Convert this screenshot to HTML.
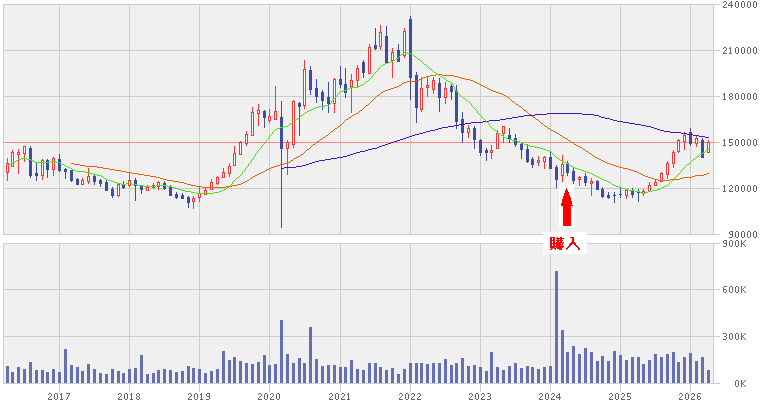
<!DOCTYPE html><html><head><meta charset="utf-8"><title>chart</title><style>html,body{margin:0;padding:0;background:#fff}svg{display:block}text{font-family:"Liberation Sans",sans-serif;font-size:9.5px;fill:#666666;letter-spacing:0.7px}</style></head><body>
<svg width="761" height="405" viewBox="0 0 761 405">
<rect width="761" height="405" fill="#fff"/>
<g shape-rendering="crispEdges">
<rect x="3" y="4" width="711" height="231" fill="#f0f0f0"/>
<rect x="3" y="243" width="711" height="141" fill="#f0f0f0"/>
<rect x="3" y="4" width="717" height="1" fill="#cccccc"/>
<rect x="3" y="50" width="717" height="1" fill="#cccccc"/>
<rect x="3" y="96" width="717" height="1" fill="#cccccc"/>
<rect x="3" y="142" width="717" height="1" fill="#cccccc"/>
<rect x="3" y="188" width="717" height="1" fill="#cccccc"/>
<rect x="3" y="234" width="717" height="1" fill="#cccccc"/>
<rect x="3" y="243" width="717" height="1" fill="#cccccc"/>
<rect x="3" y="289" width="717" height="1" fill="#cccccc"/>
<rect x="3" y="336" width="717" height="1" fill="#cccccc"/>
<rect x="3" y="383" width="717" height="1" fill="#cccccc"/>
<rect x="59" y="4" width="1" height="231" fill="#cccccc"/>
<rect x="59" y="243" width="1" height="149" fill="#cccccc"/>
<rect x="129" y="4" width="1" height="231" fill="#cccccc"/>
<rect x="129" y="243" width="1" height="149" fill="#cccccc"/>
<rect x="199" y="4" width="1" height="231" fill="#cccccc"/>
<rect x="199" y="243" width="1" height="149" fill="#cccccc"/>
<rect x="269" y="4" width="1" height="231" fill="#cccccc"/>
<rect x="269" y="243" width="1" height="149" fill="#cccccc"/>
<rect x="340" y="4" width="1" height="231" fill="#cccccc"/>
<rect x="340" y="243" width="1" height="149" fill="#cccccc"/>
<rect x="410" y="4" width="1" height="231" fill="#cccccc"/>
<rect x="410" y="243" width="1" height="149" fill="#cccccc"/>
<rect x="480" y="4" width="1" height="231" fill="#cccccc"/>
<rect x="480" y="243" width="1" height="149" fill="#cccccc"/>
<rect x="550" y="4" width="1" height="231" fill="#cccccc"/>
<rect x="550" y="243" width="1" height="149" fill="#cccccc"/>
<rect x="620" y="4" width="1" height="231" fill="#cccccc"/>
<rect x="620" y="243" width="1" height="149" fill="#cccccc"/>
<rect x="690" y="4" width="1" height="231" fill="#cccccc"/>
<rect x="690" y="243" width="1" height="149" fill="#cccccc"/>
<rect x="3" y="4" width="1" height="231" fill="#cccccc"/>
<rect x="3" y="243" width="1" height="141" fill="#cccccc"/>
<rect x="713" y="4" width="1" height="231" fill="#cccccc"/>
<rect x="713" y="243" width="1" height="141" fill="#cccccc"/>
<rect x="3" y="142" width="712" height="1" fill="#ff8484"/>
<rect x="7" y="158" width="1" height="23" fill="#ff3333"/>
<rect x="6" y="163" width="3" height="10" fill="#ff3333"/>
<rect x="7" y="164" width="1" height="8" fill="#fff"/>
<rect x="12" y="150" width="1" height="17" fill="#ff3333"/>
<rect x="11" y="152" width="3" height="15" fill="#ff3333"/>
<rect x="12" y="153" width="1" height="13" fill="#fff"/>
<rect x="18" y="149" width="1" height="25" fill="#ff3333"/>
<rect x="17" y="152" width="3" height="3" fill="#ff3333"/>
<rect x="18" y="153" width="1" height="1" fill="#fff"/>
<rect x="24" y="146" width="1" height="16" fill="#ff3333"/>
<rect x="23" y="146" width="3" height="8" fill="#ff3333"/>
<rect x="24" y="147" width="1" height="6" fill="#fff"/>
<rect x="30" y="146" width="1" height="32" fill="#404ca2"/>
<rect x="29" y="148" width="3" height="28" fill="#404ca2"/>
<rect x="36" y="162" width="1" height="19" fill="#404ca2"/>
<rect x="35" y="173" width="3" height="3" fill="#404ca2"/>
<rect x="42" y="159" width="1" height="21" fill="#ff3333"/>
<rect x="41" y="160" width="3" height="16" fill="#ff3333"/>
<rect x="42" y="161" width="1" height="14" fill="#fff"/>
<rect x="47" y="159" width="1" height="19" fill="#404ca2"/>
<rect x="46" y="160" width="3" height="10" fill="#404ca2"/>
<rect x="53" y="157" width="1" height="19" fill="#ff3333"/>
<rect x="52" y="158" width="3" height="12" fill="#ff3333"/>
<rect x="53" y="159" width="1" height="10" fill="#fff"/>
<rect x="59" y="154" width="1" height="18" fill="#404ca2"/>
<rect x="58" y="159" width="3" height="12" fill="#404ca2"/>
<rect x="65" y="168" width="1" height="11" fill="#404ca2"/>
<rect x="64" y="169" width="3" height="3" fill="#404ca2"/>
<rect x="71" y="170" width="1" height="12" fill="#404ca2"/>
<rect x="70" y="170" width="3" height="11" fill="#404ca2"/>
<rect x="77" y="178" width="1" height="7" fill="#404ca2"/>
<rect x="76" y="179" width="3" height="6" fill="#404ca2"/>
<rect x="82" y="178" width="1" height="7" fill="#ff3333"/>
<rect x="81" y="180" width="3" height="5" fill="#ff3333"/>
<rect x="82" y="181" width="1" height="3" fill="#fff"/>
<rect x="88" y="168" width="1" height="16" fill="#ff3333"/>
<rect x="87" y="176" width="3" height="6" fill="#ff3333"/>
<rect x="88" y="177" width="1" height="4" fill="#fff"/>
<rect x="94" y="174" width="1" height="11" fill="#404ca2"/>
<rect x="93" y="176" width="3" height="6" fill="#404ca2"/>
<rect x="100" y="179" width="1" height="8" fill="#404ca2"/>
<rect x="99" y="180" width="3" height="4" fill="#404ca2"/>
<rect x="106" y="180" width="1" height="11" fill="#404ca2"/>
<rect x="105" y="182" width="3" height="9" fill="#404ca2"/>
<rect x="112" y="187" width="1" height="11" fill="#404ca2"/>
<rect x="111" y="189" width="3" height="7" fill="#404ca2"/>
<rect x="118" y="184" width="1" height="13" fill="#ff3333"/>
<rect x="117" y="184" width="3" height="12" fill="#ff3333"/>
<rect x="118" y="185" width="1" height="10" fill="#fff"/>
<rect x="123" y="181" width="1" height="8" fill="#404ca2"/>
<rect x="122" y="184" width="3" height="4" fill="#404ca2"/>
<rect x="129" y="172" width="1" height="15" fill="#ff3333"/>
<rect x="128" y="180" width="3" height="6" fill="#ff3333"/>
<rect x="129" y="181" width="1" height="4" fill="#fff"/>
<rect x="135" y="178" width="1" height="23" fill="#404ca2"/>
<rect x="134" y="180" width="3" height="6" fill="#404ca2"/>
<rect x="141" y="185" width="1" height="9" fill="#404ca2"/>
<rect x="140" y="186" width="3" height="4" fill="#404ca2"/>
<rect x="147" y="185" width="1" height="6" fill="#ff3333"/>
<rect x="146" y="187" width="3" height="4" fill="#ff3333"/>
<rect x="147" y="188" width="1" height="2" fill="#fff"/>
<rect x="153" y="183" width="1" height="6" fill="#ff3333"/>
<rect x="152" y="185" width="3" height="3" fill="#ff3333"/>
<rect x="153" y="186" width="1" height="1" fill="#fff"/>
<rect x="158" y="181" width="1" height="9" fill="#ff3333"/>
<rect x="157" y="182" width="3" height="5" fill="#ff3333"/>
<rect x="158" y="183" width="1" height="3" fill="#fff"/>
<rect x="164" y="181" width="1" height="9" fill="#404ca2"/>
<rect x="163" y="183" width="3" height="6" fill="#404ca2"/>
<rect x="170" y="185" width="1" height="11" fill="#404ca2"/>
<rect x="169" y="187" width="3" height="9" fill="#404ca2"/>
<rect x="176" y="192" width="1" height="7" fill="#404ca2"/>
<rect x="175" y="194" width="3" height="4" fill="#404ca2"/>
<rect x="182" y="193" width="1" height="6" fill="#404ca2"/>
<rect x="181" y="195" width="3" height="4" fill="#404ca2"/>
<rect x="188" y="196" width="1" height="12" fill="#404ca2"/>
<rect x="187" y="197" width="3" height="6" fill="#404ca2"/>
<rect x="193" y="196" width="1" height="13" fill="#ff3333"/>
<rect x="192" y="198" width="3" height="4" fill="#ff3333"/>
<rect x="193" y="199" width="1" height="2" fill="#fff"/>
<rect x="199" y="186" width="1" height="16" fill="#ff3333"/>
<rect x="198" y="193" width="3" height="5" fill="#ff3333"/>
<rect x="199" y="194" width="1" height="3" fill="#fff"/>
<rect x="205" y="188" width="1" height="7" fill="#ff3333"/>
<rect x="204" y="190" width="3" height="5" fill="#ff3333"/>
<rect x="205" y="191" width="1" height="3" fill="#fff"/>
<rect x="211" y="179" width="1" height="11" fill="#ff3333"/>
<rect x="210" y="182" width="3" height="8" fill="#ff3333"/>
<rect x="211" y="183" width="1" height="6" fill="#fff"/>
<rect x="217" y="176" width="1" height="9" fill="#ff3333"/>
<rect x="216" y="177" width="3" height="7" fill="#ff3333"/>
<rect x="217" y="178" width="1" height="5" fill="#fff"/>
<rect x="223" y="168" width="1" height="10" fill="#ff3333"/>
<rect x="222" y="172" width="3" height="6" fill="#ff3333"/>
<rect x="223" y="173" width="1" height="4" fill="#fff"/>
<rect x="229" y="163" width="1" height="14" fill="#ff3333"/>
<rect x="228" y="166" width="3" height="8" fill="#ff3333"/>
<rect x="229" y="167" width="1" height="6" fill="#fff"/>
<rect x="234" y="146" width="1" height="20" fill="#ff3333"/>
<rect x="233" y="153" width="3" height="13" fill="#ff3333"/>
<rect x="234" y="154" width="1" height="11" fill="#fff"/>
<rect x="240" y="141" width="1" height="14" fill="#ff3333"/>
<rect x="239" y="142" width="3" height="13" fill="#ff3333"/>
<rect x="240" y="143" width="1" height="11" fill="#fff"/>
<rect x="246" y="131" width="1" height="15" fill="#ff3333"/>
<rect x="245" y="134" width="3" height="10" fill="#ff3333"/>
<rect x="246" y="135" width="1" height="8" fill="#fff"/>
<rect x="252" y="107" width="1" height="29" fill="#ff3333"/>
<rect x="251" y="112" width="3" height="24" fill="#ff3333"/>
<rect x="252" y="113" width="1" height="22" fill="#fff"/>
<rect x="258" y="104" width="1" height="22" fill="#ff3333"/>
<rect x="257" y="110" width="3" height="4" fill="#ff3333"/>
<rect x="258" y="111" width="1" height="2" fill="#fff"/>
<rect x="264" y="110" width="1" height="18" fill="#404ca2"/>
<rect x="263" y="111" width="3" height="7" fill="#404ca2"/>
<rect x="269" y="109" width="1" height="14" fill="#ff3333"/>
<rect x="268" y="116" width="3" height="5" fill="#ff3333"/>
<rect x="269" y="117" width="1" height="3" fill="#fff"/>
<rect x="275" y="86" width="1" height="34" fill="#ff3333"/>
<rect x="274" y="111" width="3" height="9" fill="#ff3333"/>
<rect x="275" y="112" width="1" height="7" fill="#fff"/>
<rect x="281" y="101" width="1" height="127" fill="#404ca2"/>
<rect x="280" y="117" width="3" height="32" fill="#404ca2"/>
<rect x="287" y="140" width="1" height="35" fill="#ff3333"/>
<rect x="286" y="142" width="3" height="7" fill="#ff3333"/>
<rect x="287" y="143" width="1" height="5" fill="#fff"/>
<rect x="293" y="100" width="1" height="48" fill="#ff3333"/>
<rect x="292" y="101" width="3" height="44" fill="#ff3333"/>
<rect x="293" y="102" width="1" height="42" fill="#fff"/>
<rect x="299" y="102" width="1" height="34" fill="#404ca2"/>
<rect x="298" y="103" width="3" height="4" fill="#404ca2"/>
<rect x="304" y="60" width="1" height="49" fill="#ff3333"/>
<rect x="303" y="69" width="3" height="37" fill="#ff3333"/>
<rect x="304" y="70" width="1" height="35" fill="#fff"/>
<rect x="310" y="66" width="1" height="29" fill="#404ca2"/>
<rect x="309" y="70" width="3" height="20" fill="#404ca2"/>
<rect x="316" y="79" width="1" height="24" fill="#404ca2"/>
<rect x="315" y="88" width="3" height="9" fill="#404ca2"/>
<rect x="322" y="90" width="1" height="20" fill="#404ca2"/>
<rect x="321" y="92" width="3" height="9" fill="#404ca2"/>
<rect x="328" y="82" width="1" height="31" fill="#404ca2"/>
<rect x="327" y="97" width="3" height="7" fill="#404ca2"/>
<rect x="334" y="78" width="1" height="35" fill="#ff3333"/>
<rect x="333" y="79" width="3" height="25" fill="#ff3333"/>
<rect x="334" y="80" width="1" height="23" fill="#fff"/>
<rect x="340" y="66" width="1" height="22" fill="#404ca2"/>
<rect x="339" y="79" width="3" height="6" fill="#404ca2"/>
<rect x="345" y="68" width="1" height="30" fill="#404ca2"/>
<rect x="344" y="84" width="3" height="9" fill="#404ca2"/>
<rect x="351" y="74" width="1" height="39" fill="#ff3333"/>
<rect x="350" y="80" width="3" height="7" fill="#ff3333"/>
<rect x="351" y="81" width="1" height="5" fill="#fff"/>
<rect x="357" y="65" width="1" height="22" fill="#ff3333"/>
<rect x="356" y="68" width="3" height="13" fill="#ff3333"/>
<rect x="357" y="69" width="1" height="11" fill="#fff"/>
<rect x="363" y="60" width="1" height="18" fill="#404ca2"/>
<rect x="362" y="62" width="3" height="11" fill="#404ca2"/>
<rect x="369" y="44" width="1" height="30" fill="#ff3333"/>
<rect x="368" y="47" width="3" height="27" fill="#ff3333"/>
<rect x="369" y="48" width="1" height="25" fill="#fff"/>
<rect x="375" y="28" width="1" height="22" fill="#404ca2"/>
<rect x="374" y="45" width="3" height="4" fill="#404ca2"/>
<rect x="380" y="25" width="1" height="25" fill="#ff3333"/>
<rect x="379" y="32" width="3" height="15" fill="#ff3333"/>
<rect x="380" y="33" width="1" height="13" fill="#fff"/>
<rect x="386" y="26" width="1" height="37" fill="#404ca2"/>
<rect x="385" y="36" width="3" height="27" fill="#404ca2"/>
<rect x="392" y="48" width="1" height="30" fill="#ff3333"/>
<rect x="391" y="52" width="3" height="9" fill="#ff3333"/>
<rect x="392" y="53" width="1" height="7" fill="#fff"/>
<rect x="398" y="44" width="1" height="18" fill="#404ca2"/>
<rect x="397" y="50" width="3" height="12" fill="#404ca2"/>
<rect x="404" y="28" width="1" height="30" fill="#ff3333"/>
<rect x="403" y="31" width="3" height="25" fill="#ff3333"/>
<rect x="404" y="32" width="1" height="23" fill="#fff"/>
<rect x="410" y="16" width="1" height="84" fill="#404ca2"/>
<rect x="409" y="19" width="3" height="59" fill="#404ca2"/>
<rect x="416" y="72" width="1" height="51" fill="#404ca2"/>
<rect x="415" y="75" width="3" height="33" fill="#404ca2"/>
<rect x="421" y="77" width="1" height="35" fill="#ff3333"/>
<rect x="420" y="88" width="3" height="22" fill="#ff3333"/>
<rect x="421" y="89" width="1" height="20" fill="#fff"/>
<rect x="427" y="77" width="1" height="20" fill="#ff3333"/>
<rect x="426" y="85" width="3" height="3" fill="#ff3333"/>
<rect x="427" y="86" width="1" height="1" fill="#fff"/>
<rect x="433" y="77" width="1" height="17" fill="#ff3333"/>
<rect x="432" y="80" width="3" height="10" fill="#ff3333"/>
<rect x="433" y="81" width="1" height="8" fill="#fff"/>
<rect x="439" y="78" width="1" height="34" fill="#404ca2"/>
<rect x="438" y="83" width="3" height="15" fill="#404ca2"/>
<rect x="445" y="82" width="1" height="22" fill="#ff3333"/>
<rect x="444" y="88" width="3" height="10" fill="#ff3333"/>
<rect x="445" y="89" width="1" height="8" fill="#fff"/>
<rect x="451" y="84" width="1" height="16" fill="#404ca2"/>
<rect x="450" y="86" width="3" height="6" fill="#404ca2"/>
<rect x="456" y="85" width="1" height="44" fill="#404ca2"/>
<rect x="455" y="91" width="3" height="31" fill="#404ca2"/>
<rect x="462" y="112" width="1" height="31" fill="#404ca2"/>
<rect x="461" y="119" width="3" height="14" fill="#404ca2"/>
<rect x="468" y="125" width="1" height="13" fill="#ff3333"/>
<rect x="467" y="128" width="3" height="5" fill="#ff3333"/>
<rect x="468" y="129" width="1" height="3" fill="#fff"/>
<rect x="474" y="126" width="1" height="23" fill="#404ca2"/>
<rect x="473" y="128" width="3" height="12" fill="#404ca2"/>
<rect x="480" y="139" width="1" height="17" fill="#404ca2"/>
<rect x="479" y="140" width="3" height="13" fill="#404ca2"/>
<rect x="486" y="148" width="1" height="13" fill="#404ca2"/>
<rect x="485" y="150" width="3" height="3" fill="#404ca2"/>
<rect x="491" y="145" width="1" height="14" fill="#ff3333"/>
<rect x="490" y="150" width="3" height="3" fill="#ff3333"/>
<rect x="491" y="151" width="1" height="1" fill="#fff"/>
<rect x="497" y="130" width="1" height="19" fill="#ff3333"/>
<rect x="496" y="133" width="3" height="16" fill="#ff3333"/>
<rect x="497" y="134" width="1" height="14" fill="#fff"/>
<rect x="503" y="126" width="1" height="17" fill="#ff3333"/>
<rect x="502" y="126" width="3" height="8" fill="#ff3333"/>
<rect x="503" y="127" width="1" height="6" fill="#fff"/>
<rect x="509" y="128" width="1" height="15" fill="#404ca2"/>
<rect x="508" y="135" width="3" height="5" fill="#404ca2"/>
<rect x="515" y="134" width="1" height="13" fill="#404ca2"/>
<rect x="514" y="138" width="3" height="7" fill="#404ca2"/>
<rect x="521" y="143" width="1" height="16" fill="#404ca2"/>
<rect x="520" y="144" width="3" height="6" fill="#404ca2"/>
<rect x="527" y="144" width="1" height="19" fill="#404ca2"/>
<rect x="526" y="149" width="3" height="13" fill="#404ca2"/>
<rect x="532" y="157" width="1" height="11" fill="#404ca2"/>
<rect x="531" y="159" width="3" height="6" fill="#404ca2"/>
<rect x="538" y="156" width="1" height="10" fill="#ff3333"/>
<rect x="537" y="160" width="3" height="3" fill="#ff3333"/>
<rect x="538" y="161" width="1" height="1" fill="#fff"/>
<rect x="544" y="156" width="1" height="13" fill="#ff3333"/>
<rect x="543" y="157" width="3" height="5" fill="#ff3333"/>
<rect x="544" y="158" width="1" height="3" fill="#fff"/>
<rect x="550" y="152" width="1" height="17" fill="#404ca2"/>
<rect x="549" y="157" width="3" height="12" fill="#404ca2"/>
<rect x="556" y="165" width="1" height="23" fill="#404ca2"/>
<rect x="555" y="167" width="3" height="13" fill="#404ca2"/>
<rect x="562" y="155" width="1" height="27" fill="#ff3333"/>
<rect x="561" y="164" width="3" height="12" fill="#ff3333"/>
<rect x="562" y="165" width="1" height="10" fill="#fff"/>
<rect x="567" y="161" width="1" height="15" fill="#404ca2"/>
<rect x="566" y="163" width="3" height="10" fill="#404ca2"/>
<rect x="573" y="168" width="1" height="16" fill="#404ca2"/>
<rect x="572" y="171" width="3" height="10" fill="#404ca2"/>
<rect x="579" y="176" width="1" height="10" fill="#ff3333"/>
<rect x="578" y="177" width="3" height="3" fill="#ff3333"/>
<rect x="579" y="178" width="1" height="1" fill="#fff"/>
<rect x="585" y="173" width="1" height="13" fill="#404ca2"/>
<rect x="584" y="176" width="3" height="7" fill="#404ca2"/>
<rect x="591" y="178" width="1" height="18" fill="#ff3333"/>
<rect x="590" y="181" width="3" height="3" fill="#ff3333"/>
<rect x="591" y="182" width="1" height="1" fill="#fff"/>
<rect x="597" y="180" width="1" height="10" fill="#404ca2"/>
<rect x="596" y="181" width="3" height="9" fill="#404ca2"/>
<rect x="602" y="187" width="1" height="11" fill="#404ca2"/>
<rect x="601" y="189" width="3" height="8" fill="#404ca2"/>
<rect x="608" y="192" width="1" height="7" fill="#404ca2"/>
<rect x="607" y="195" width="3" height="3" fill="#404ca2"/>
<rect x="614" y="192" width="1" height="11" fill="#404ca2"/>
<rect x="613" y="195" width="3" height="1" fill="#404ca2"/>
<rect x="620" y="187" width="1" height="11" fill="#404ca2"/>
<rect x="619" y="194" width="3" height="1" fill="#404ca2"/>
<rect x="626" y="190" width="1" height="9" fill="#ff3333"/>
<rect x="625" y="190" width="3" height="6" fill="#ff3333"/>
<rect x="626" y="191" width="1" height="4" fill="#fff"/>
<rect x="632" y="188" width="1" height="10" fill="#404ca2"/>
<rect x="631" y="190" width="3" height="5" fill="#404ca2"/>
<rect x="638" y="189" width="1" height="13" fill="#404ca2"/>
<rect x="637" y="192" width="3" height="1" fill="#404ca2"/>
<rect x="643" y="189" width="1" height="7" fill="#ff3333"/>
<rect x="642" y="191" width="3" height="3" fill="#ff3333"/>
<rect x="643" y="192" width="1" height="1" fill="#fff"/>
<rect x="649" y="182" width="1" height="10" fill="#ff3333"/>
<rect x="648" y="185" width="3" height="7" fill="#ff3333"/>
<rect x="649" y="186" width="1" height="5" fill="#fff"/>
<rect x="655" y="180" width="1" height="6" fill="#ff3333"/>
<rect x="654" y="182" width="3" height="4" fill="#ff3333"/>
<rect x="655" y="183" width="1" height="2" fill="#fff"/>
<rect x="661" y="172" width="1" height="10" fill="#ff3333"/>
<rect x="660" y="173" width="3" height="9" fill="#ff3333"/>
<rect x="661" y="174" width="1" height="7" fill="#fff"/>
<rect x="667" y="161" width="1" height="18" fill="#ff3333"/>
<rect x="666" y="163" width="3" height="12" fill="#ff3333"/>
<rect x="667" y="164" width="1" height="10" fill="#fff"/>
<rect x="673" y="150" width="1" height="18" fill="#ff3333"/>
<rect x="672" y="152" width="3" height="12" fill="#ff3333"/>
<rect x="673" y="153" width="1" height="10" fill="#fff"/>
<rect x="678" y="139" width="1" height="14" fill="#ff3333"/>
<rect x="677" y="140" width="3" height="12" fill="#ff3333"/>
<rect x="678" y="141" width="1" height="10" fill="#fff"/>
<rect x="684" y="132" width="1" height="18" fill="#ff3333"/>
<rect x="683" y="135" width="3" height="7" fill="#ff3333"/>
<rect x="684" y="136" width="1" height="5" fill="#fff"/>
<rect x="690" y="128" width="1" height="18" fill="#404ca2"/>
<rect x="689" y="132" width="3" height="12" fill="#404ca2"/>
<rect x="696" y="135" width="1" height="12" fill="#ff3333"/>
<rect x="695" y="138" width="3" height="6" fill="#ff3333"/>
<rect x="696" y="139" width="1" height="4" fill="#fff"/>
<rect x="702" y="138" width="1" height="20" fill="#404ca2"/>
<rect x="701" y="140" width="3" height="18" fill="#404ca2"/>
<rect x="708" y="140" width="1" height="13" fill="#ff3333"/>
<rect x="707" y="142" width="3" height="11" fill="#ff3333"/>
<rect x="708" y="143" width="1" height="9" fill="#fff"/>
<rect x="6" y="366" width="3" height="17" fill="#6670b0"/>
<rect x="11" y="372" width="3" height="11" fill="#6670b0"/>
<rect x="17" y="367" width="3" height="16" fill="#6670b0"/>
<rect x="23" y="369" width="3" height="14" fill="#6670b0"/>
<rect x="29" y="362" width="3" height="21" fill="#6670b0"/>
<rect x="35" y="370" width="3" height="13" fill="#6670b0"/>
<rect x="41" y="370" width="3" height="13" fill="#6670b0"/>
<rect x="46" y="372" width="3" height="11" fill="#6670b0"/>
<rect x="52" y="369" width="3" height="14" fill="#6670b0"/>
<rect x="58" y="372" width="3" height="11" fill="#6670b0"/>
<rect x="64" y="349" width="3" height="34" fill="#6670b0"/>
<rect x="70" y="365" width="3" height="18" fill="#6670b0"/>
<rect x="76" y="367" width="3" height="16" fill="#6670b0"/>
<rect x="81" y="371" width="3" height="12" fill="#6670b0"/>
<rect x="87" y="364" width="3" height="19" fill="#6670b0"/>
<rect x="93" y="369" width="3" height="14" fill="#6670b0"/>
<rect x="99" y="373" width="3" height="10" fill="#6670b0"/>
<rect x="105" y="374" width="3" height="9" fill="#6670b0"/>
<rect x="111" y="369" width="3" height="14" fill="#6670b0"/>
<rect x="117" y="371" width="3" height="12" fill="#6670b0"/>
<rect x="122" y="373" width="3" height="10" fill="#6670b0"/>
<rect x="128" y="369" width="3" height="14" fill="#6670b0"/>
<rect x="134" y="368" width="3" height="15" fill="#6670b0"/>
<rect x="140" y="355" width="3" height="28" fill="#6670b0"/>
<rect x="146" y="374" width="3" height="9" fill="#6670b0"/>
<rect x="152" y="373" width="3" height="10" fill="#6670b0"/>
<rect x="157" y="370" width="3" height="13" fill="#6670b0"/>
<rect x="163" y="369" width="3" height="14" fill="#6670b0"/>
<rect x="169" y="370" width="3" height="13" fill="#6670b0"/>
<rect x="175" y="372" width="3" height="11" fill="#6670b0"/>
<rect x="181" y="371" width="3" height="12" fill="#6670b0"/>
<rect x="187" y="366" width="3" height="17" fill="#6670b0"/>
<rect x="192" y="368" width="3" height="15" fill="#6670b0"/>
<rect x="198" y="369" width="3" height="14" fill="#6670b0"/>
<rect x="204" y="373" width="3" height="10" fill="#6670b0"/>
<rect x="210" y="371" width="3" height="12" fill="#6670b0"/>
<rect x="216" y="369" width="3" height="14" fill="#6670b0"/>
<rect x="222" y="351" width="3" height="32" fill="#6670b0"/>
<rect x="228" y="360" width="3" height="23" fill="#6670b0"/>
<rect x="233" y="357" width="3" height="26" fill="#6670b0"/>
<rect x="239" y="361" width="3" height="22" fill="#6670b0"/>
<rect x="245" y="363" width="3" height="20" fill="#6670b0"/>
<rect x="251" y="364" width="3" height="19" fill="#6670b0"/>
<rect x="257" y="362" width="3" height="21" fill="#6670b0"/>
<rect x="263" y="355" width="3" height="28" fill="#6670b0"/>
<rect x="268" y="365" width="3" height="18" fill="#6670b0"/>
<rect x="274" y="364" width="3" height="19" fill="#6670b0"/>
<rect x="280" y="320" width="3" height="63" fill="#6670b0"/>
<rect x="286" y="354" width="3" height="29" fill="#6670b0"/>
<rect x="292" y="363" width="3" height="20" fill="#6670b0"/>
<rect x="298" y="358" width="3" height="25" fill="#6670b0"/>
<rect x="303" y="363" width="3" height="20" fill="#6670b0"/>
<rect x="309" y="327" width="3" height="56" fill="#6670b0"/>
<rect x="315" y="359" width="3" height="24" fill="#6670b0"/>
<rect x="321" y="366" width="3" height="17" fill="#6670b0"/>
<rect x="327" y="365" width="3" height="18" fill="#6670b0"/>
<rect x="333" y="365" width="3" height="18" fill="#6670b0"/>
<rect x="339" y="367" width="3" height="16" fill="#6670b0"/>
<rect x="344" y="367" width="3" height="16" fill="#6670b0"/>
<rect x="350" y="360" width="3" height="23" fill="#6670b0"/>
<rect x="356" y="369" width="3" height="14" fill="#6670b0"/>
<rect x="362" y="370" width="3" height="13" fill="#6670b0"/>
<rect x="368" y="363" width="3" height="20" fill="#6670b0"/>
<rect x="374" y="363" width="3" height="20" fill="#6670b0"/>
<rect x="379" y="367" width="3" height="16" fill="#6670b0"/>
<rect x="385" y="370" width="3" height="13" fill="#6670b0"/>
<rect x="391" y="368" width="3" height="15" fill="#6670b0"/>
<rect x="397" y="374" width="3" height="9" fill="#6670b0"/>
<rect x="403" y="369" width="3" height="14" fill="#6670b0"/>
<rect x="409" y="363" width="3" height="20" fill="#6670b0"/>
<rect x="415" y="363" width="3" height="20" fill="#6670b0"/>
<rect x="420" y="363" width="3" height="20" fill="#6670b0"/>
<rect x="426" y="364" width="3" height="19" fill="#6670b0"/>
<rect x="432" y="363" width="3" height="20" fill="#6670b0"/>
<rect x="438" y="363" width="3" height="20" fill="#6670b0"/>
<rect x="444" y="359" width="3" height="24" fill="#6670b0"/>
<rect x="450" y="365" width="3" height="18" fill="#6670b0"/>
<rect x="455" y="363" width="3" height="20" fill="#6670b0"/>
<rect x="461" y="358" width="3" height="25" fill="#6670b0"/>
<rect x="467" y="366" width="3" height="17" fill="#6670b0"/>
<rect x="473" y="365" width="3" height="18" fill="#6670b0"/>
<rect x="479" y="367" width="3" height="16" fill="#6670b0"/>
<rect x="485" y="371" width="3" height="12" fill="#6670b0"/>
<rect x="490" y="352" width="3" height="31" fill="#6670b0"/>
<rect x="496" y="367" width="3" height="16" fill="#6670b0"/>
<rect x="502" y="370" width="3" height="13" fill="#6670b0"/>
<rect x="508" y="366" width="3" height="17" fill="#6670b0"/>
<rect x="514" y="363" width="3" height="20" fill="#6670b0"/>
<rect x="520" y="368" width="3" height="15" fill="#6670b0"/>
<rect x="526" y="366" width="3" height="17" fill="#6670b0"/>
<rect x="531" y="367" width="3" height="16" fill="#6670b0"/>
<rect x="537" y="369" width="3" height="14" fill="#6670b0"/>
<rect x="543" y="367" width="3" height="16" fill="#6670b0"/>
<rect x="549" y="366" width="3" height="17" fill="#6670b0"/>
<rect x="555" y="271" width="3" height="112" fill="#6670b0"/>
<rect x="561" y="330" width="3" height="53" fill="#6670b0"/>
<rect x="566" y="352" width="3" height="31" fill="#6670b0"/>
<rect x="572" y="346" width="3" height="37" fill="#6670b0"/>
<rect x="578" y="354" width="3" height="29" fill="#6670b0"/>
<rect x="584" y="348" width="3" height="35" fill="#6670b0"/>
<rect x="590" y="352" width="3" height="31" fill="#6670b0"/>
<rect x="596" y="361" width="3" height="22" fill="#6670b0"/>
<rect x="601" y="356" width="3" height="27" fill="#6670b0"/>
<rect x="607" y="361" width="3" height="22" fill="#6670b0"/>
<rect x="613" y="351" width="3" height="32" fill="#6670b0"/>
<rect x="619" y="355" width="3" height="28" fill="#6670b0"/>
<rect x="625" y="360" width="3" height="23" fill="#6670b0"/>
<rect x="631" y="357" width="3" height="26" fill="#6670b0"/>
<rect x="637" y="357" width="3" height="26" fill="#6670b0"/>
<rect x="642" y="364" width="3" height="19" fill="#6670b0"/>
<rect x="648" y="360" width="3" height="23" fill="#6670b0"/>
<rect x="654" y="354" width="3" height="29" fill="#6670b0"/>
<rect x="660" y="357" width="3" height="26" fill="#6670b0"/>
<rect x="666" y="354" width="3" height="29" fill="#6670b0"/>
<rect x="672" y="352" width="3" height="31" fill="#6670b0"/>
<rect x="677" y="362" width="3" height="21" fill="#6670b0"/>
<rect x="683" y="357" width="3" height="26" fill="#6670b0"/>
<rect x="689" y="353" width="3" height="30" fill="#6670b0"/>
<rect x="695" y="361" width="3" height="22" fill="#6670b0"/>
<rect x="701" y="357" width="3" height="26" fill="#6670b0"/>
<rect x="707" y="370" width="3" height="13" fill="#6670b0"/>
</g>
<path shape-rendering="crispEdges" fill="none" stroke="#e8600c" stroke-width="1" d="M436 74.5h6M430 75.5h6M442 75.5h12M426 76.5h4M454 76.5h4M423 77.5h3M458 77.5h3M421 78.5h2M461 78.5h4M419 79.5h2M465 79.5h5M417 80.5h2M470 80.5h3M407 81.5h10M473 81.5h2M404 82.5h3M475 82.5h2M402 83.5h2M477 83.5h2M401 84.5h1M479 84.5h2M399 85.5h2M481 85.5h2M397 86.5h2M483 86.5h2M394 87.5h3M485 87.5h2M391 88.5h3M487 88.5h2M388 89.5h3M489 89.5h2M385 90.5h3M491 90.5h2M383 91.5h2M493 91.5h3M381 92.5h2M496 92.5h3M380 93.5h1M499 93.5h3M379 94.5h1M502 94.5h2M377 95.5h2M504 95.5h2M376 96.5h1M506 96.5h1M375 97.5h1M507 97.5h2M374 98.5h1M509 98.5h1M373 99.5h1M510 99.5h1M372 100.5h1M511 100.5h1M371 101.5h1M512 101.5h2M370 102.5h1M514 102.5h1M369 103.5h1M515 103.5h1M368 104.5h1M516 104.5h2M366 105.5h2M518 105.5h1M365 106.5h1M519 106.5h2M364 107.5h1M521 107.5h1M363 108.5h1M522 108.5h1M362 109.5h1M523 109.5h1M360 110.5h2M524 110.5h2M359 111.5h1M526 111.5h1M358 112.5h1M527 112.5h1M356 113.5h2M528 113.5h1M354 114.5h2M529 114.5h2M352 115.5h2M531 115.5h1M351 116.5h1M532 116.5h1M349 117.5h2M533 117.5h2M348 118.5h1M535 118.5h1M346 119.5h2M536 119.5h2M345 120.5h1M538 120.5h1M344 121.5h1M539 121.5h1M343 122.5h1M540 122.5h1M342 123.5h1M541 123.5h2M341 124.5h1M543 124.5h1M340 125.5h1M544 125.5h1M338 126.5h2M545 126.5h2M337 127.5h1M547 127.5h1M335 128.5h2M548 128.5h2M334 129.5h1M550 129.5h1M333 130.5h1M551 130.5h2M331 131.5h2M553 131.5h2M330 132.5h1M555 132.5h2M329 133.5h1M557 133.5h2M328 134.5h1M559 134.5h1M326 135.5h2M560 135.5h2M325 136.5h1M562 136.5h1M323 137.5h2M563 137.5h2M322 138.5h1M565 138.5h2M320 139.5h2M567 139.5h1M319 140.5h1M568 140.5h2M317 141.5h2M570 141.5h1M316 142.5h1M571 142.5h2M315 143.5h1M573 143.5h1M313 144.5h2M574 144.5h2M312 145.5h1M576 145.5h2M311 146.5h1M578 146.5h2M310 147.5h1M580 147.5h2M309 148.5h1M582 148.5h1M307 149.5h2M583 149.5h2M306 150.5h1M585 150.5h1M305 151.5h1M586 151.5h2M304 152.5h1M588 152.5h1M303 153.5h1M589 153.5h2M301 154.5h2M591 154.5h1M300 155.5h1M592 155.5h2M298 156.5h2M594 156.5h1M296 157.5h2M595 157.5h2M294 158.5h2M597 158.5h2M293 159.5h1M599 159.5h2M291 160.5h2M601 160.5h2M290 161.5h1M603 161.5h2M288 162.5h2M605 162.5h2M71 163.5h3M284 163.5h4M607 163.5h3M74 164.5h6M280 164.5h4M610 164.5h3M80 165.5h5M277 165.5h3M613 165.5h3M85 166.5h12M274 166.5h3M616 166.5h3M97 167.5h6M271 167.5h3M619 167.5h4M103 168.5h6M269 168.5h2M623 168.5h5M109 169.5h6M267 169.5h2M628 169.5h3M115 170.5h6M265 170.5h2M631 170.5h3M121 171.5h5M263 171.5h2M634 171.5h3M126 172.5h6M261 172.5h2M637 172.5h2M132 173.5h6M259 173.5h2M639 173.5h2M707 173.5h2M138 174.5h6M257 174.5h2M641 174.5h2M704 174.5h3M144 175.5h6M255 175.5h2M643 175.5h2M695 175.5h9M150 176.5h6M253 176.5h2M645 176.5h3M692 176.5h3M156 177.5h4M252 177.5h1M648 177.5h3M683 177.5h9M160 178.5h3M250 178.5h2M651 178.5h3M680 178.5h3M163 179.5h4M249 179.5h1M654 179.5h4M670 179.5h10M167 180.5h6M247 180.5h2M658 180.5h12M173 181.5h6M245 181.5h2M179 182.5h5M243 182.5h2M184 183.5h3M241 183.5h2M187 184.5h4M237 184.5h4M191 185.5h5M232 185.5h5M196 186.5h6M226 186.5h6M202 187.5h24"/>
<path shape-rendering="crispEdges" fill="none" stroke="#4c10c0" stroke-width="1" d="M547 113.5h35M535 114.5h12M582 114.5h12M524 115.5h11M594 115.5h5M518 116.5h6M599 116.5h2M512 117.5h6M601 117.5h4M506 118.5h6M605 118.5h5M500 119.5h6M610 119.5h3M489 120.5h11M613 120.5h4M483 121.5h6M617 121.5h6M471 122.5h12M623 122.5h6M465 123.5h6M629 123.5h6M459 124.5h6M635 124.5h6M454 125.5h5M641 125.5h5M448 126.5h6M646 126.5h5M442 127.5h6M651 127.5h3M438 128.5h4M654 128.5h3M435 129.5h3M657 129.5h3M430 130.5h5M660 130.5h4M426 131.5h4M664 131.5h6M423 132.5h3M670 132.5h11M419 133.5h4M681 133.5h6M415 134.5h4M687 134.5h6M412 135.5h3M693 135.5h6M409 136.5h3M699 136.5h6M406 137.5h3M705 137.5h4M403 138.5h3M400 139.5h3M397 140.5h3M394 141.5h3M391 142.5h3M388 143.5h3M385 144.5h3M382 145.5h3M379 146.5h3M377 147.5h2M372 148.5h5M368 149.5h4M365 150.5h3M360 151.5h5M356 152.5h4M353 153.5h3M350 154.5h3M347 155.5h3M343 156.5h4M337 157.5h6M331 158.5h6M325 159.5h6M319 160.5h6M315 161.5h4M312 162.5h3M309 163.5h3M306 164.5h3M302 165.5h4M296 166.5h6M284 167.5h12M281 168.5h3"/>
<path shape-rendering="crispEdges" fill="none" stroke="#48e810" stroke-width="1" d="M404 52.5h3M403 53.5h1M407 53.5h4M401 54.5h2M411 54.5h2M400 55.5h1M413 55.5h1M399 56.5h1M414 56.5h2M398 57.5h1M416 57.5h1M396 58.5h2M417 58.5h1M395 59.5h1M418 59.5h2M393 60.5h2M420 60.5h1M391 61.5h2M421 61.5h1M388 62.5h3M422 62.5h1M385 63.5h3M423 63.5h1M383 64.5h2M424 64.5h2M381 65.5h2M426 65.5h1M380 66.5h1M427 66.5h1M379 67.5h1M428 67.5h1M378 68.5h1M429 68.5h1M378 69.5h1M430 69.5h2M377 70.5h1M432 70.5h1M376 71.5h1M433 71.5h1M375 72.5h1M434 72.5h2M374 73.5h1M436 73.5h1M373 74.5h1M437 74.5h2M372 75.5h1M439 75.5h1M372 76.5h1M440 76.5h2M371 77.5h1M442 77.5h1M370 78.5h1M443 78.5h2M369 79.5h1M445 79.5h1M368 80.5h1M446 80.5h2M366 81.5h2M448 81.5h2M365 82.5h1M450 82.5h2M364 83.5h1M452 83.5h1M362 84.5h2M452 84.5h1M360 85.5h2M453 85.5h1M358 86.5h2M453 86.5h1M350 87.5h8M454 87.5h1M348 88.5h2M454 88.5h1M346 89.5h2M455 89.5h1M343 90.5h3M455 90.5h1M340 91.5h3M456 91.5h1M339 92.5h1M457 92.5h1M338 93.5h1M458 93.5h1M337 94.5h1M459 94.5h1M337 95.5h1M460 95.5h1M336 96.5h1M461 96.5h1M335 97.5h1M462 97.5h1M334 98.5h1M463 98.5h2M333 99.5h1M465 99.5h1M332 100.5h1M466 100.5h2M331 101.5h1M468 101.5h1M331 102.5h1M469 102.5h1M330 103.5h1M470 103.5h1M329 104.5h1M471 104.5h1M325 105.5h4M471 105.5h1M319 106.5h6M472 106.5h1M315 107.5h4M473 107.5h1M313 108.5h2M474 108.5h1M311 109.5h2M475 109.5h1M309 110.5h2M476 110.5h1M307 111.5h2M477 111.5h1M305 112.5h2M477 112.5h1M304 113.5h1M478 113.5h1M303 114.5h1M479 114.5h1M301 115.5h2M480 115.5h1M300 116.5h1M481 116.5h1M299 117.5h1M482 117.5h1M297 118.5h2M483 118.5h1M296 119.5h1M484 119.5h1M294 120.5h2M485 120.5h1M293 121.5h1M486 121.5h1M292 122.5h1M487 122.5h1M290 123.5h2M488 123.5h1M289 124.5h1M489 124.5h1M288 125.5h1M489 125.5h1M284 126.5h4M490 126.5h1M280 127.5h4M491 127.5h1M277 128.5h3M492 128.5h1M275 129.5h2M493 129.5h1M274 130.5h1M494 130.5h2M273 131.5h1M496 131.5h1M272 132.5h1M497 132.5h1M272 133.5h1M498 133.5h2M271 134.5h1M500 134.5h1M270 135.5h1M501 135.5h2M269 136.5h1M503 136.5h1M268 137.5h1M504 137.5h2M268 138.5h1M506 138.5h2M267 139.5h1M508 139.5h4M266 140.5h1M512 140.5h5M265 141.5h1M517 141.5h3M265 142.5h1M520 142.5h2M264 143.5h1M522 143.5h2M263 144.5h1M524 144.5h2M262 145.5h1M526 145.5h4M261 146.5h1M530 146.5h5M261 147.5h1M535 147.5h5M260 148.5h1M540 148.5h3M259 149.5h1M543 149.5h3M708 149.5h1M258 150.5h1M546 150.5h3M706 150.5h2M257 151.5h1M549 151.5h2M705 151.5h1M257 152.5h1M551 152.5h1M703 152.5h2M256 153.5h1M552 153.5h1M702 153.5h1M255 154.5h1M553 154.5h1M700 154.5h2M255 155.5h1M554 155.5h1M699 155.5h1M254 156.5h1M555 156.5h1M697 156.5h2M253 157.5h1M556 157.5h1M696 157.5h1M21 158.5h6M253 158.5h1M557 158.5h2M695 158.5h1M18 159.5h3M27 159.5h4M252 159.5h1M559 159.5h1M693 159.5h2M16 160.5h2M31 160.5h2M251 160.5h1M560 160.5h2M692 160.5h1M15 161.5h1M33 161.5h2M50 161.5h6M251 161.5h1M562 161.5h2M691 161.5h1M13 162.5h2M35 162.5h15M56 162.5h4M250 162.5h1M564 162.5h2M690 162.5h1M11 163.5h2M60 163.5h2M249 163.5h1M566 163.5h2M689 163.5h1M9 164.5h2M62 164.5h2M248 164.5h1M568 164.5h2M687 164.5h2M7 165.5h2M64 165.5h2M248 165.5h1M570 165.5h1M686 165.5h1M66 166.5h2M247 166.5h1M571 166.5h2M685 166.5h1M68 167.5h2M246 167.5h1M573 167.5h2M684 167.5h1M70 168.5h2M245 168.5h1M575 168.5h3M683 168.5h1M72 169.5h2M245 169.5h1M578 169.5h3M682 169.5h1M74 170.5h2M244 170.5h1M581 170.5h3M681 170.5h1M76 171.5h9M243 171.5h1M584 171.5h3M681 171.5h1M85 172.5h5M242 172.5h1M587 172.5h3M680 172.5h1M90 173.5h3M242 173.5h1M590 173.5h2M679 173.5h1M93 174.5h4M241 174.5h1M592 174.5h2M678 174.5h1M97 175.5h4M240 175.5h1M594 175.5h2M677 175.5h1M101 176.5h2M239 176.5h1M596 176.5h2M676 176.5h1M103 177.5h1M237 177.5h2M598 177.5h2M675 177.5h1M104 178.5h2M236 178.5h1M600 178.5h2M674 178.5h1M106 179.5h2M235 179.5h1M602 179.5h2M673 179.5h1M108 180.5h3M234 180.5h1M604 180.5h3M672 180.5h1M111 181.5h3M233 181.5h1M607 181.5h2M671 181.5h1M114 182.5h3M232 182.5h1M609 182.5h2M670 182.5h1M117 183.5h4M126 183.5h6M232 183.5h1M611 183.5h1M669 183.5h1M121 184.5h5M132 184.5h6M231 184.5h1M612 184.5h2M668 184.5h1M138 185.5h6M156 185.5h11M230 185.5h1M614 185.5h2M666 185.5h2M144 186.5h12M167 186.5h5M229 186.5h1M616 186.5h3M664 186.5h2M172 187.5h3M227 187.5h2M619 187.5h3M662 187.5h2M175 188.5h3M226 188.5h1M622 188.5h3M660 188.5h2M178 189.5h3M224 189.5h2M625 189.5h4M657 189.5h3M181 190.5h4M222 190.5h2M629 190.5h6M652 190.5h5M185 191.5h6M219 191.5h3M635 191.5h5M648 191.5h4M191 192.5h5M214 192.5h5M640 192.5h2M645 192.5h3M196 193.5h18M642 193.5h3"/>
<g shape-rendering="crispEdges">
<rect x="559" y="185" width="15" height="42" fill="#fff"/>
<rect x="543" y="232" width="44" height="22" fill="#fff"/>
</g>
<g shape-rendering="crispEdges" fill="#ff0000"><path d="M566.5,187.6Q571.3,196.8 572.9,206L560.9,206Q562.5,196.8 566.5,187.6Z"/><rect x="563" y="205" width="8" height="21"/></g>
<g shape-rendering="crispEdges" fill="#ff0000">
<path shape-rendering="crispEdges" fill="none" stroke="#ff0000" stroke-width="1" d="M550 237.5h5M557 237.5h1M560 237.5h2M550 238.5h2M553 238.5h2M556 238.5h8M550 239.5h2M553 239.5h2M557 239.5h2M560 239.5h2M550 240.5h5M556 240.5h7M550 241.5h2M553 241.5h2M557 241.5h2M560 241.5h2M550 242.5h2M553 242.5h2M556 242.5h8M550 243.5h11M562 243.5h1M550 244.5h2M553 244.5h2M556 244.5h7M550 245.5h2M553 245.5h2M556 245.5h5M562 245.5h1M550 246.5h14M550 247.5h5M556 247.5h7M551 248.5h2M554 248.5h2M557 248.5h5M550 249.5h2M555 249.5h1M559 249.5h3M570 237.5h4M572 238.5h2M572 239.5h2M572 240.5h2M572 241.5h2M571 242.5h4M570 243.5h6M569 244.5h3M574 244.5h2M569 245.5h2M575 245.5h2M568 246.5h2M576 246.5h2M567 247.5h2M577 247.5h2M566 248.5h2M578 248.5h2M566 249.5h1M578 249.5h2"/>
</g>
<g shape-rendering="crispEdges" fill="#666666">
<path shape-rendering="crispEdges" fill="none" stroke="#666666" stroke-width="1" d="M724 1.5h2M723 2.5h1M726 2.5h1M726 3.5h1M725 4.5h1M724 5.5h1M723 6.5h1M723 7.5h4M731 1.5h1M730 2.5h2M729 3.5h1M731 3.5h1M728 4.5h1M731 4.5h1M728 5.5h5M731 6.5h1M731 7.5h1M736 1.5h2M735 2.5h1M738 2.5h1M735 3.5h1M738 3.5h1M735 4.5h1M738 4.5h1M735 5.5h1M738 5.5h1M735 6.5h1M738 6.5h1M736 7.5h2M742 1.5h2M741 2.5h1M744 2.5h1M741 3.5h1M744 3.5h1M741 4.5h1M744 4.5h1M741 5.5h1M744 5.5h1M741 6.5h1M744 6.5h1M742 7.5h2M748 1.5h2M747 2.5h1M750 2.5h1M747 3.5h1M750 3.5h1M747 4.5h1M750 4.5h1M747 5.5h1M750 5.5h1M747 6.5h1M750 6.5h1M748 7.5h2M754 1.5h2M753 2.5h1M756 2.5h1M753 3.5h1M756 3.5h1M753 4.5h1M756 4.5h1M753 5.5h1M756 5.5h1M753 6.5h1M756 6.5h1M754 7.5h2M724 47.5h2M723 48.5h1M726 48.5h1M726 49.5h1M725 50.5h1M724 51.5h1M723 52.5h1M723 53.5h4M730 47.5h1M729 48.5h2M730 49.5h1M730 50.5h1M730 51.5h1M730 52.5h1M729 53.5h3M736 47.5h2M735 48.5h1M738 48.5h1M735 49.5h1M738 49.5h1M735 50.5h1M738 50.5h1M735 51.5h1M738 51.5h1M735 52.5h1M738 52.5h1M736 53.5h2M742 47.5h2M741 48.5h1M744 48.5h1M741 49.5h1M744 49.5h1M741 50.5h1M744 50.5h1M741 51.5h1M744 51.5h1M741 52.5h1M744 52.5h1M742 53.5h2M748 47.5h2M747 48.5h1M750 48.5h1M747 49.5h1M750 49.5h1M747 50.5h1M750 50.5h1M747 51.5h1M750 51.5h1M747 52.5h1M750 52.5h1M748 53.5h2M754 47.5h2M753 48.5h1M756 48.5h1M753 49.5h1M756 49.5h1M753 50.5h1M756 50.5h1M753 51.5h1M756 51.5h1M753 52.5h1M756 52.5h1M754 53.5h2M724 93.5h1M723 94.5h2M724 95.5h1M724 96.5h1M724 97.5h1M724 98.5h1M723 99.5h3M730 93.5h2M729 94.5h1M732 94.5h1M729 95.5h1M732 95.5h1M730 96.5h2M729 97.5h1M732 97.5h1M729 98.5h1M732 98.5h1M730 99.5h2M736 93.5h2M735 94.5h1M738 94.5h1M735 95.5h1M738 95.5h1M735 96.5h1M738 96.5h1M735 97.5h1M738 97.5h1M735 98.5h1M738 98.5h1M736 99.5h2M742 93.5h2M741 94.5h1M744 94.5h1M741 95.5h1M744 95.5h1M741 96.5h1M744 96.5h1M741 97.5h1M744 97.5h1M741 98.5h1M744 98.5h1M742 99.5h2M748 93.5h2M747 94.5h1M750 94.5h1M747 95.5h1M750 95.5h1M747 96.5h1M750 96.5h1M747 97.5h1M750 97.5h1M747 98.5h1M750 98.5h1M748 99.5h2M754 93.5h2M753 94.5h1M756 94.5h1M753 95.5h1M756 95.5h1M753 96.5h1M756 96.5h1M753 97.5h1M756 97.5h1M753 98.5h1M756 98.5h1M754 99.5h2M724 139.5h1M723 140.5h2M724 141.5h1M724 142.5h1M724 143.5h1M724 144.5h1M723 145.5h3M729 139.5h4M729 140.5h1M729 141.5h1M729 142.5h3M732 143.5h1M732 144.5h1M729 145.5h3M736 139.5h2M735 140.5h1M738 140.5h1M735 141.5h1M738 141.5h1M735 142.5h1M738 142.5h1M735 143.5h1M738 143.5h1M735 144.5h1M738 144.5h1M736 145.5h2M742 139.5h2M741 140.5h1M744 140.5h1M741 141.5h1M744 141.5h1M741 142.5h1M744 142.5h1M741 143.5h1M744 143.5h1M741 144.5h1M744 144.5h1M742 145.5h2M748 139.5h2M747 140.5h1M750 140.5h1M747 141.5h1M750 141.5h1M747 142.5h1M750 142.5h1M747 143.5h1M750 143.5h1M747 144.5h1M750 144.5h1M748 145.5h2M754 139.5h2M753 140.5h1M756 140.5h1M753 141.5h1M756 141.5h1M753 142.5h1M756 142.5h1M753 143.5h1M756 143.5h1M753 144.5h1M756 144.5h1M754 145.5h2M724 185.5h1M723 186.5h2M724 187.5h1M724 188.5h1M724 189.5h1M724 190.5h1M723 191.5h3M730 185.5h2M729 186.5h1M732 186.5h1M732 187.5h1M731 188.5h1M730 189.5h1M729 190.5h1M729 191.5h4M736 185.5h2M735 186.5h1M738 186.5h1M735 187.5h1M738 187.5h1M735 188.5h1M738 188.5h1M735 189.5h1M738 189.5h1M735 190.5h1M738 190.5h1M736 191.5h2M742 185.5h2M741 186.5h1M744 186.5h1M741 187.5h1M744 187.5h1M741 188.5h1M744 188.5h1M741 189.5h1M744 189.5h1M741 190.5h1M744 190.5h1M742 191.5h2M748 185.5h2M747 186.5h1M750 186.5h1M747 187.5h1M750 187.5h1M747 188.5h1M750 188.5h1M747 189.5h1M750 189.5h1M747 190.5h1M750 190.5h1M748 191.5h2M754 185.5h2M753 186.5h1M756 186.5h1M753 187.5h1M756 187.5h1M753 188.5h1M756 188.5h1M753 189.5h1M756 189.5h1M753 190.5h1M756 190.5h1M754 191.5h2M730 231.5h3M729 232.5h1M732 232.5h1M729 233.5h1M732 233.5h1M730 234.5h3M732 235.5h1M732 236.5h1M729 237.5h3M736 231.5h2M735 232.5h1M738 232.5h1M735 233.5h1M738 233.5h1M735 234.5h1M738 234.5h1M735 235.5h1M738 235.5h1M735 236.5h1M738 236.5h1M736 237.5h2M742 231.5h2M741 232.5h1M744 232.5h1M741 233.5h1M744 233.5h1M741 234.5h1M744 234.5h1M741 235.5h1M744 235.5h1M741 236.5h1M744 236.5h1M742 237.5h2M748 231.5h2M747 232.5h1M750 232.5h1M747 233.5h1M750 233.5h1M747 234.5h1M750 234.5h1M747 235.5h1M750 235.5h1M747 236.5h1M750 236.5h1M748 237.5h2M754 231.5h2M753 232.5h1M756 232.5h1M753 233.5h1M756 233.5h1M753 234.5h1M756 234.5h1M753 235.5h1M756 235.5h1M753 236.5h1M756 236.5h1M754 237.5h2M724 240.5h3M723 241.5h1M726 241.5h1M723 242.5h1M726 242.5h1M724 243.5h3M726 244.5h1M726 245.5h1M723 246.5h3M730 240.5h2M729 241.5h1M732 241.5h1M729 242.5h1M732 242.5h1M729 243.5h1M732 243.5h1M729 244.5h1M732 244.5h1M729 245.5h1M732 245.5h1M730 246.5h2M736 240.5h2M735 241.5h1M738 241.5h1M735 242.5h1M738 242.5h1M735 243.5h1M738 243.5h1M735 244.5h1M738 244.5h1M735 245.5h1M738 245.5h1M736 246.5h2M741 240.5h1M745 240.5h1M741 241.5h1M744 241.5h1M741 242.5h1M743 242.5h1M741 243.5h2M741 244.5h1M743 244.5h1M741 245.5h1M744 245.5h1M741 246.5h1M745 246.5h1M724 286.5h3M723 287.5h1M723 288.5h1M723 289.5h3M723 290.5h1M726 290.5h1M723 291.5h1M726 291.5h1M724 292.5h2M730 286.5h2M729 287.5h1M732 287.5h1M729 288.5h1M732 288.5h1M729 289.5h1M732 289.5h1M729 290.5h1M732 290.5h1M729 291.5h1M732 291.5h1M730 292.5h2M736 286.5h2M735 287.5h1M738 287.5h1M735 288.5h1M738 288.5h1M735 289.5h1M738 289.5h1M735 290.5h1M738 290.5h1M735 291.5h1M738 291.5h1M736 292.5h2M741 286.5h1M745 286.5h1M741 287.5h1M744 287.5h1M741 288.5h1M743 288.5h1M741 289.5h2M741 290.5h1M743 290.5h1M741 291.5h1M744 291.5h1M741 292.5h1M745 292.5h1M723 333.5h3M726 334.5h1M726 335.5h1M724 336.5h2M726 337.5h1M726 338.5h1M723 339.5h3M730 333.5h2M729 334.5h1M732 334.5h1M729 335.5h1M732 335.5h1M729 336.5h1M732 336.5h1M729 337.5h1M732 337.5h1M729 338.5h1M732 338.5h1M730 339.5h2M736 333.5h2M735 334.5h1M738 334.5h1M735 335.5h1M738 335.5h1M735 336.5h1M738 336.5h1M735 337.5h1M738 337.5h1M735 338.5h1M738 338.5h1M736 339.5h2M741 333.5h1M745 333.5h1M741 334.5h1M744 334.5h1M741 335.5h1M743 335.5h1M741 336.5h2M741 337.5h1M743 337.5h1M741 338.5h1M744 338.5h1M741 339.5h1M745 339.5h1M736 380.5h2M735 381.5h1M738 381.5h1M735 382.5h1M738 382.5h1M735 383.5h1M738 383.5h1M735 384.5h1M738 384.5h1M735 385.5h1M738 385.5h1M736 386.5h2M741 380.5h1M745 380.5h1M741 381.5h1M744 381.5h1M741 382.5h1M743 382.5h1M741 383.5h2M741 384.5h1M743 384.5h1M741 385.5h1M744 385.5h1M741 386.5h1M745 386.5h1M49 393.5h2M48 394.5h1M51 394.5h1M51 395.5h1M50 396.5h1M49 397.5h1M48 398.5h1M48 399.5h4M55 393.5h2M54 394.5h1M57 394.5h1M54 395.5h1M57 395.5h1M54 396.5h1M57 396.5h1M54 397.5h1M57 397.5h1M54 398.5h1M57 398.5h1M55 399.5h2M61 393.5h1M60 394.5h2M61 395.5h1M61 396.5h1M61 397.5h1M61 398.5h1M60 399.5h3M66 393.5h4M69 394.5h1M68 395.5h1M68 396.5h1M67 397.5h1M67 398.5h1M66 399.5h1M119 393.5h2M118 394.5h1M121 394.5h1M121 395.5h1M120 396.5h1M119 397.5h1M118 398.5h1M118 399.5h4M125 393.5h2M124 394.5h1M127 394.5h1M124 395.5h1M127 395.5h1M124 396.5h1M127 396.5h1M124 397.5h1M127 397.5h1M124 398.5h1M127 398.5h1M125 399.5h2M131 393.5h1M130 394.5h2M131 395.5h1M131 396.5h1M131 397.5h1M131 398.5h1M130 399.5h3M137 393.5h2M136 394.5h1M139 394.5h1M136 395.5h1M139 395.5h1M137 396.5h2M136 397.5h1M139 397.5h1M136 398.5h1M139 398.5h1M137 399.5h2M189 393.5h2M188 394.5h1M191 394.5h1M191 395.5h1M190 396.5h1M189 397.5h1M188 398.5h1M188 399.5h4M195 393.5h2M194 394.5h1M197 394.5h1M194 395.5h1M197 395.5h1M194 396.5h1M197 396.5h1M194 397.5h1M197 397.5h1M194 398.5h1M197 398.5h1M195 399.5h2M201 393.5h1M200 394.5h2M201 395.5h1M201 396.5h1M201 397.5h1M201 398.5h1M200 399.5h3M207 393.5h3M206 394.5h1M209 394.5h1M206 395.5h1M209 395.5h1M207 396.5h3M209 397.5h1M209 398.5h1M206 399.5h3M259 393.5h2M258 394.5h1M261 394.5h1M261 395.5h1M260 396.5h1M259 397.5h1M258 398.5h1M258 399.5h4M265 393.5h2M264 394.5h1M267 394.5h1M264 395.5h1M267 395.5h1M264 396.5h1M267 396.5h1M264 397.5h1M267 397.5h1M264 398.5h1M267 398.5h1M265 399.5h2M271 393.5h2M270 394.5h1M273 394.5h1M273 395.5h1M272 396.5h1M271 397.5h1M270 398.5h1M270 399.5h4M277 393.5h2M276 394.5h1M279 394.5h1M276 395.5h1M279 395.5h1M276 396.5h1M279 396.5h1M276 397.5h1M279 397.5h1M276 398.5h1M279 398.5h1M277 399.5h2M330 393.5h2M329 394.5h1M332 394.5h1M332 395.5h1M331 396.5h1M330 397.5h1M329 398.5h1M329 399.5h4M336 393.5h2M335 394.5h1M338 394.5h1M335 395.5h1M338 395.5h1M335 396.5h1M338 396.5h1M335 397.5h1M338 397.5h1M335 398.5h1M338 398.5h1M336 399.5h2M342 393.5h2M341 394.5h1M344 394.5h1M344 395.5h1M343 396.5h1M342 397.5h1M341 398.5h1M341 399.5h4M348 393.5h1M347 394.5h2M348 395.5h1M348 396.5h1M348 397.5h1M348 398.5h1M347 399.5h3M400 393.5h2M399 394.5h1M402 394.5h1M402 395.5h1M401 396.5h1M400 397.5h1M399 398.5h1M399 399.5h4M406 393.5h2M405 394.5h1M408 394.5h1M405 395.5h1M408 395.5h1M405 396.5h1M408 396.5h1M405 397.5h1M408 397.5h1M405 398.5h1M408 398.5h1M406 399.5h2M412 393.5h2M411 394.5h1M414 394.5h1M414 395.5h1M413 396.5h1M412 397.5h1M411 398.5h1M411 399.5h4M418 393.5h2M417 394.5h1M420 394.5h1M420 395.5h1M419 396.5h1M418 397.5h1M417 398.5h1M417 399.5h4M470 393.5h2M469 394.5h1M472 394.5h1M472 395.5h1M471 396.5h1M470 397.5h1M469 398.5h1M469 399.5h4M476 393.5h2M475 394.5h1M478 394.5h1M475 395.5h1M478 395.5h1M475 396.5h1M478 396.5h1M475 397.5h1M478 397.5h1M475 398.5h1M478 398.5h1M476 399.5h2M482 393.5h2M481 394.5h1M484 394.5h1M484 395.5h1M483 396.5h1M482 397.5h1M481 398.5h1M481 399.5h4M487 393.5h3M490 394.5h1M490 395.5h1M488 396.5h2M490 397.5h1M490 398.5h1M487 399.5h3M540 393.5h2M539 394.5h1M542 394.5h1M542 395.5h1M541 396.5h1M540 397.5h1M539 398.5h1M539 399.5h4M546 393.5h2M545 394.5h1M548 394.5h1M545 395.5h1M548 395.5h1M545 396.5h1M548 396.5h1M545 397.5h1M548 397.5h1M545 398.5h1M548 398.5h1M546 399.5h2M552 393.5h2M551 394.5h1M554 394.5h1M554 395.5h1M553 396.5h1M552 397.5h1M551 398.5h1M551 399.5h4M559 393.5h1M558 394.5h2M557 395.5h1M559 395.5h1M556 396.5h1M559 396.5h1M556 397.5h5M559 398.5h1M559 399.5h1M610 393.5h2M609 394.5h1M612 394.5h1M612 395.5h1M611 396.5h1M610 397.5h1M609 398.5h1M609 399.5h4M616 393.5h2M615 394.5h1M618 394.5h1M615 395.5h1M618 395.5h1M615 396.5h1M618 396.5h1M615 397.5h1M618 397.5h1M615 398.5h1M618 398.5h1M616 399.5h2M622 393.5h2M621 394.5h1M624 394.5h1M624 395.5h1M623 396.5h1M622 397.5h1M621 398.5h1M621 399.5h4M627 393.5h4M627 394.5h1M627 395.5h1M627 396.5h3M630 397.5h1M630 398.5h1M627 399.5h3M680 393.5h2M679 394.5h1M682 394.5h1M682 395.5h1M681 396.5h1M680 397.5h1M679 398.5h1M679 399.5h4M686 393.5h2M685 394.5h1M688 394.5h1M685 395.5h1M688 395.5h1M685 396.5h1M688 396.5h1M685 397.5h1M688 397.5h1M685 398.5h1M688 398.5h1M686 399.5h2M692 393.5h2M691 394.5h1M694 394.5h1M694 395.5h1M693 396.5h1M692 397.5h1M691 398.5h1M691 399.5h4M698 393.5h3M697 394.5h1M697 395.5h1M697 396.5h3M697 397.5h1M700 397.5h1M697 398.5h1M700 398.5h1M698 399.5h2"/>
</g>
</svg></body></html>
